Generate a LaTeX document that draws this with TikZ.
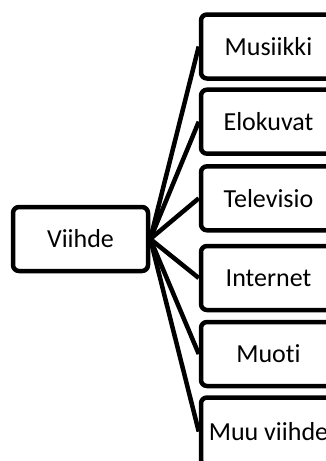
\documentclass[tikz,border=0pt]{standalone}
\usepackage{fontspec}
\setmainfont{Carlito}[Ligatures=CommonOff]
\begin{document}
\begin{tikzpicture}[x=1pt,y=-1pt,
  topicbox/.style={draw=black, line width=4.5pt, rounded corners=6pt, fill=white,
    minimum width=135pt, minimum height=64pt, inner sep=0pt,
    font=\fontsize{26}{30}\selectfont, text=black},
  link/.style={draw=black, line width=4.5pt}]
  \path[use as bounding box, clip] (0,0) rectangle (326,461);

  % main topic
  \node[topicbox] (viihde) at (80.5,239) {Viihde};

  % sub topics
  \node[topicbox] (musiikki)  at (268.5,46.5)  {Musiikki};
  \node[topicbox] (elokuvat)  at (268.5,121.7) {Elokuvat};
  \node[topicbox] (televisio) at (268.5,198.3) {Televisio};
  \node[topicbox] (internet)  at (268.5,278)   {Internet};
  \node[topicbox] (muoti)     at (268.5,354)   {Muoti};
  \node[topicbox, minimum height=68pt] (muu) at (268.5,431.5) {Muu viihde};

  % connectors from the main topic
  \foreach \t in {musiikki,elokuvat,televisio,internet,muoti,muu}
    \draw[link] (viihde.east) -- (\t.west);
\end{tikzpicture}
\end{document}
